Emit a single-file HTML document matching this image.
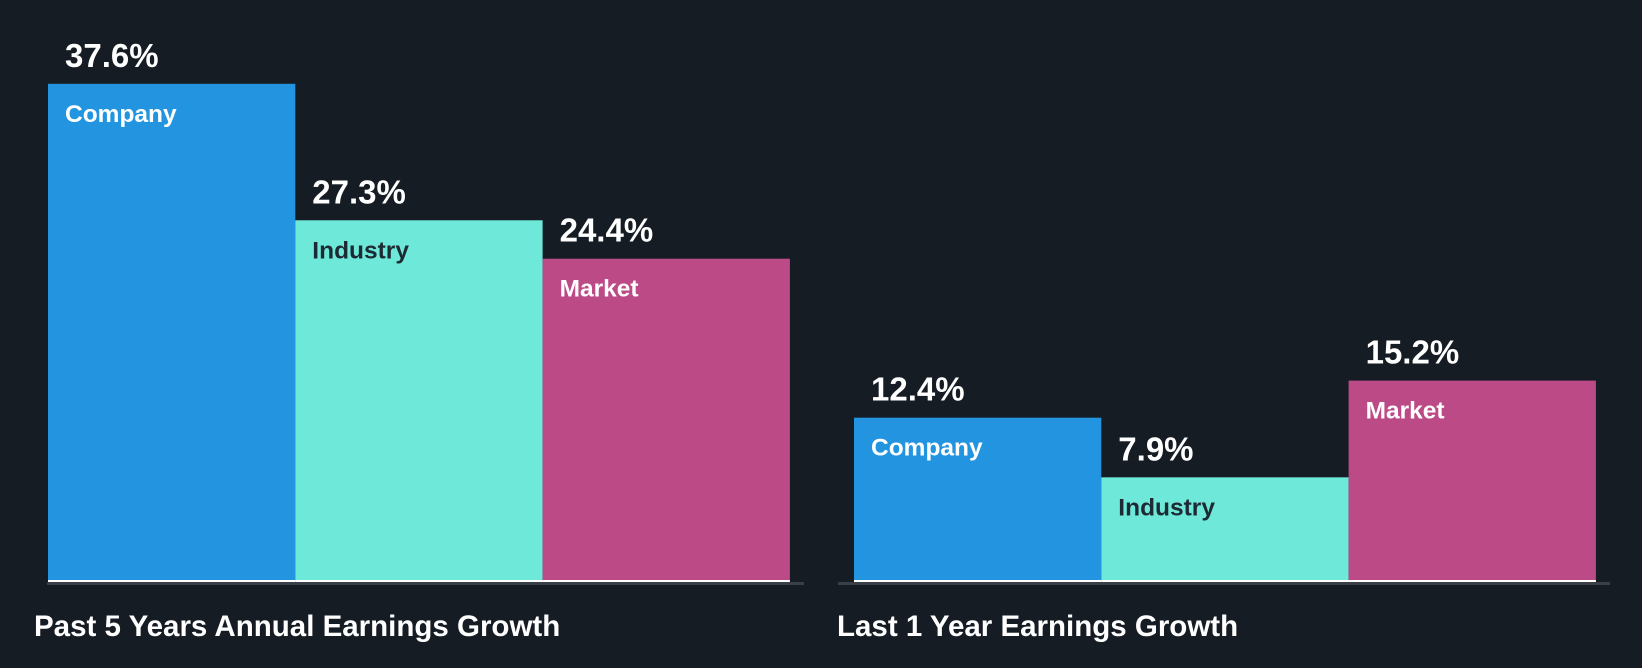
<!DOCTYPE html>
<html><head><meta charset="utf-8"><style>
body{margin:0;background:#161c24;}
svg{display:block;font-family:"Liberation Sans",sans-serif;font-weight:bold;}
</style></head><body>
<svg width="1642" height="668">
<rect width="1642" height="668" fill="#161c24"/>
<g id="marks"></g>
</svg>
<script>
const groups=["Past 5 Years Annual Earnings Growth","Last 1 Year Earnings Growth"];
const categories=["Company","Industry","Market"];
const past5=[37.6,27.3,24.4];
const last1=[12.4,7.9,15.2];
const series=[past5,last1];
const colors=["#2394df","#6ee8d8","#bc4a87"];
const labelColors=["#ffffff","#1e2a33","#ffffff"];
const base=582, pxPer=13.25;
const y=v=>base-v*pxPer;
const groupX=[48,854], barW=247.3, axisL=[47,838], axisR=[804,1610];
const g=document.getElementById('marks');
const NS="http://www.w3.org/2000/svg";
function mk(t,a,txt){const e=document.createElementNS(NS,t);for(const k in a)e.setAttribute(k,a[k]);if(txt!=null)e.textContent=txt;g.appendChild(e);return e;}
series.forEach((vals,gi)=>{
  const ax=mk('rect',{x:axisL[gi],y:base,width:axisR[gi]-axisL[gi],height:3,fill:'#3a3f47'});
  
  
  vals.forEach((v,i)=>{
    const x=groupX[gi]+i*barW;
    const b=mk('rect',{x:x,y:y(v),width:barW,height:base-y(v),fill:colors[i]});
    
    
    const w=mk('rect',{x:x,y:base-2,width:barW,height:2,fill:'#ffffff'});
    
    
    const vl=mk('text',{x:x+17,y:y(v)-17,fill:'#ffffff','font-size':33},v.toFixed(1)+'%');
    
    
    const cl=mk('text',{x:x+17,y:y(v)+38,fill:labelColors[i],'font-size':24.5},categories[i]);
    
    
  });
  const t=mk('text',{x:axisL[gi]-14+ (gi?0:0),y:636,fill:'#ffffff','font-size':29.5},groups[gi]);
  t.setAttribute('x',gi?837:34);
  
  
});
</script>
</body></html>
